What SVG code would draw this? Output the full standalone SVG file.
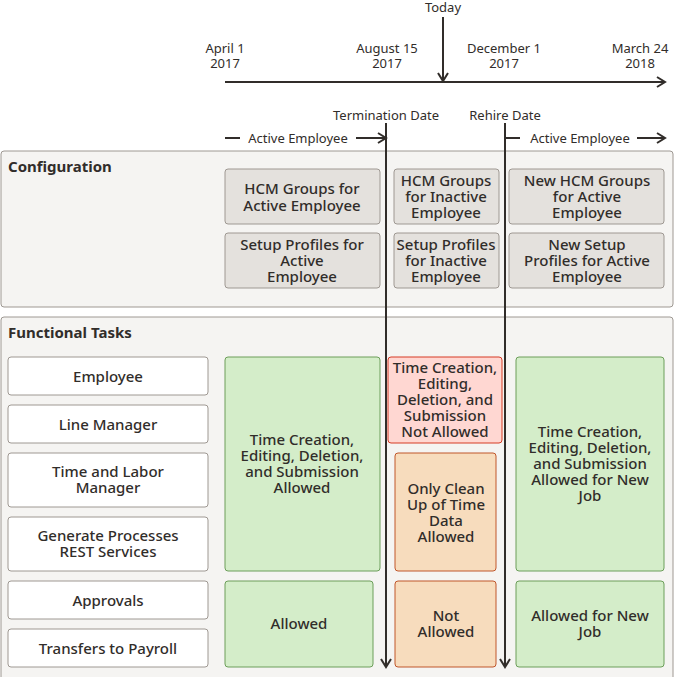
<svg xmlns="http://www.w3.org/2000/svg" width="674" height="677" viewBox="0 0 674 677">
<style>
text{font-family:"Noto Sans","Open Sans",sans-serif;fill:#312d2a;text-anchor:middle}
.s{font-size:13px}
.b{font-size:15px;font-weight:500}
.h{font-size:15px;font-weight:bold;text-anchor:start}
.ln{stroke:#312d2a;stroke-width:2;fill:none}
.panel{fill:#f5f4f2;stroke:#9e9892;stroke-width:1}
.cfg{fill:#e4e1dd;stroke:#9e9892}
.wt{fill:#fff;stroke:#9e9892}
.gr{fill:#d4edc9;stroke:#6c9e5a}
.rd{fill:#ffd7d2;stroke:#d63b25}
.or{fill:#f7dcbd;stroke:#c0562b}
</style>
<defs><marker id="a" viewBox="0 0 12 12" refX="10" refY="6" markerWidth="12" markerHeight="12" markerUnits="userSpaceOnUse" orient="auto"><path d="M2,1 L10,6 L2,11" fill="none" stroke="#312d2a" stroke-width="2"/></marker></defs>
<g id="panels">
<rect class="panel" x="1" y="151" width="672" height="156" rx="3"/>
<text class="h" x="8" y="172">Configuration</text>
<rect class="panel" x="1" y="317" width="672" height="370" rx="3"/>
<text class="h" x="8" y="338">Functional Tasks</text>
</g>
<g id="labels">
<text class="s" x="443" y="12">Today</text>
<text class="s" x="225" y="53">April 1</text><text class="s" x="225" y="68">2017</text>
<text class="s" x="387" y="53">August 15</text><text class="s" x="387" y="68">2017</text>
<text class="s" x="504" y="53">December 1</text><text class="s" x="504" y="68">2017</text>
<text class="s" x="640" y="53">March 24</text><text class="s" x="640" y="68">2018</text>
<text class="s" x="386" y="120">Termination Date</text>
<text class="s" x="505" y="120">Rehire Date</text>
<text class="s" x="298" y="143">Active Employee</text>
<text class="s" x="580" y="143">Active Employee</text>
</g>
<g id="config">
<rect class="cfg" x="225" y="169" width="155" height="55" rx="3"/><text class="b" x="302" y="194">HCM Groups for</text><text class="b" x="302" y="211">Active   Employee</text>
<rect class="cfg" x="225" y="233" width="155" height="55" rx="3"/><text class="b" x="302" y="250">Setup Profiles for</text><text class="b" x="302" y="266">Active</text><text class="b" x="302" y="282">Employee</text>
<rect class="cfg" x="394" y="169" width="105" height="55" rx="3"/><text class="b" x="446" y="186">HCM Groups</text><text class="b" x="446" y="202">for Inactive</text><text class="b" x="446" y="218">Employee</text>
<rect class="cfg" x="394" y="233" width="105" height="55" rx="3"/><text class="b" x="446" y="250">Setup Profiles</text><text class="b" x="446" y="266">for Inactive</text><text class="b" x="446" y="282">Employee</text>
<rect class="cfg" x="509" y="169" width="155" height="55" rx="3"/><text class="b" x="587" y="186">New HCM Groups</text><text class="b" x="587" y="202">for Active</text><text class="b" x="587" y="218">Employee</text>
<rect class="cfg" x="509" y="233" width="155" height="55" rx="3"/><text class="b" x="587" y="250">New Setup</text><text class="b" x="587" y="266">Profiles for Active</text><text class="b" x="587" y="282">Employee</text>
</g>
<g id="roles">
<rect class="wt" x="8" y="357" width="200" height="38" rx="3"/><text class="b" x="108" y="382">Employee</text>
<rect class="wt" x="8" y="405" width="200" height="38" rx="3"/><text class="b" x="108" y="430">Line Manager</text>
<rect class="wt" x="8" y="453" width="200" height="54" rx="3"/><text class="b" x="108" y="477">Time and Labor</text><text class="b" x="108" y="493">Manager</text>
<rect class="wt" x="8" y="517" width="200" height="54" rx="3"/><text class="b" x="108" y="541">Generate Processes</text><text class="b" x="108" y="557">REST Services</text>
<rect class="wt" x="8" y="581" width="200" height="38" rx="3"/><text class="b" x="108" y="606">Approvals</text>
<rect class="wt" x="8" y="629" width="200" height="38" rx="3"/><text class="b" x="108" y="654">Transfers to Payroll</text>
</g>
<g id="status">
<rect class="gr" x="225" y="357" width="155" height="214" rx="3"/><text class="b" x="302" y="445">Time Creation,</text><text class="b" x="302" y="461">Editing, Deletion,</text><text class="b" x="302" y="477">and Submission</text><text class="b" x="302" y="493">Allowed</text>
<rect class="gr" x="225" y="581" width="148" height="86" rx="3"/><text class="b" x="299" y="629">Allowed</text>
<rect class="rd" x="388" y="357" width="114" height="86" rx="3"/><text class="b" x="445" y="373">Time Creation,</text><text class="b" x="445" y="389">Editing,</text><text class="b" x="445" y="405">Deletion,   and</text><text class="b" x="445" y="421">Submission</text><text class="b" x="445" y="437">Not Allowed</text>
<rect class="or" x="395" y="453" width="101" height="118" rx="3"/><text class="b" x="446" y="494">Only Clean</text><text class="b" x="446" y="510">Up of Time</text><text class="b" x="446" y="526">Data</text><text class="b" x="446" y="542">Allowed</text>
<rect class="or" x="395" y="581" width="101" height="86" rx="3"/><text class="b" x="446" y="621">Not</text><text class="b" x="446" y="637">Allowed</text>
<rect class="gr" x="516" y="357" width="148" height="214" rx="3"/><text class="b" x="590" y="437">Time Creation,</text><text class="b" x="590" y="453">Editing, Deletion,</text><text class="b" x="590" y="469">and Submission</text><text class="b" x="590" y="485">Allowed for New</text><text class="b" x="590" y="501">Job</text>
<rect class="gr" x="516" y="581" width="148" height="86" rx="3"/><text class="b" x="590" y="621">Allowed for New</text><text class="b" x="590" y="637">Job</text>
</g>
<g id="connectors">
<line class="ln" x1="225" y1="82" x2="665" y2="82" marker-end="url(#a)"/>
<line class="ln" x1="443" y1="17" x2="443" y2="81" marker-end="url(#a)"/>
<line class="ln" x1="386" y1="123" x2="386" y2="667" marker-end="url(#a)"/>
<line class="ln" x1="505" y1="123" x2="505" y2="667" marker-end="url(#a)"/>
<line class="ln" x1="225" y1="138" x2="240" y2="138"/>
<line class="ln" x1="356" y1="138" x2="386" y2="138" marker-end="url(#a)"/>
<line class="ln" x1="505" y1="138" x2="520" y2="138"/>
<line class="ln" x1="637" y1="138" x2="665" y2="138" marker-end="url(#a)"/>
</g>
</svg>
